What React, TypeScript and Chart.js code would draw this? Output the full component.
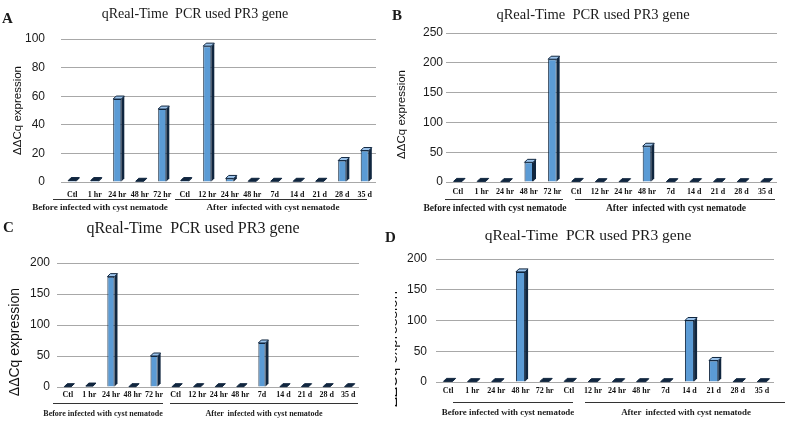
import React, { useEffect, useRef } from "react";
import { Chart, registerables } from "chart.js";

Chart.register(...registerables);

// ---------- data ----------
const categoriesABC = ["Ctl", "1 hr", "24 hr", "48 hr", "72 hr", "Ctl", "12 hr", "24 hr", "48 hr", "7d", "14 d", "21 d", "28 d", "35 d"];
const categoriesD = ["Ctl", "1 hr", "24 hr", "48 hr", "72 hr", "Ctl", "12 hr", "24 hr", "48 hr", "7d", "14 d", "21 d", "28 d", "35 d"];

const valuesA = [1, 1, 58, 0.5, 51, 1, 95, 2.5, 0.5, 0.5, 0.5, 0.5, 15, 22];
const valuesB = [1, 1, 0.5, 33, 206, 1, 0.5, 0.5, 60, 0.5, 0.5, 0.5, 0.5, 0.5];
const valuesC = [0.5, 1.5, 178, 0.5, 50, 0.5, 0.5, 0.5, 0.5, 71, 0.5, 0.5, 0.5, 0.5];
const valuesD = [1, 0.5, 0.5, 179, 1, 1, 0.5, 0.5, 0.5, 0.5, 100, 35, 0.5, 0.5];

const yMaxA = 100;
const yStepA = 20;
const yMaxB = 250;
const yStepB = 50;
const yMaxC = 200;
const yStepC = 50;
const yMaxD = 200;
const yStepD = 50;

const chartTitle = "qReal-Time  PCR used PR3 gene";
const yAxisTitle = "ΔΔCq expression";
const groupBefore = "Before infected with cyst nematode";
const groupAfter = "After  infected with cyst nematode";

// ---------- styling ----------
const SERIF = "'Liberation Serif', 'Times New Roman', serif";
const SANS = "'Liberation Sans', Arial, sans-serif";
const BAR_FRONT = "#5b9bd5";
const BAR_LIGHT = "#8fbbe8";
const BAR_DARK = "#10263f";
const BAR_TOP = "#9cc4ec";
const GRID = "#a8a8a8";

const bar3d = {
  id: "bar3d",
  afterDatasetsDraw(chart: any) {
    const ctx = chart.ctx;
    const meta = chart.getDatasetMeta(0);
    const d = 3;
    meta.data.forEach((el: any) => {
      const p = el.getProps(["x", "y", "base", "width"], true);
      const l = p.x - p.width / 2;
      const r = p.x + p.width / 2;
      const y = p.y;
      const base = p.base;
      ctx.save();
      // side face
      ctx.beginPath();
      ctx.moveTo(r, y);
      ctx.lineTo(r + d, y - d);
      ctx.lineTo(r + d, base - d);
      ctx.lineTo(r, base);
      ctx.closePath();
      ctx.fillStyle = BAR_DARK;
      ctx.fill();
      // top face
      ctx.beginPath();
      ctx.moveTo(l, y);
      ctx.lineTo(l + d, y - d);
      ctx.lineTo(r + d, y - d);
      ctx.lineTo(r, y);
      ctx.closePath();
      ctx.fillStyle = base - y < 3 ? BAR_DARK : BAR_TOP;
      ctx.fill();
      ctx.strokeStyle = BAR_DARK;
      ctx.lineWidth = 1;
      ctx.stroke();
      ctx.restore();
    });
  },
};

type PanelCfg = {
  left: number;
  top: number;
  width: number;
  height: number;
  padding: { left: number; right: number; top: number; bottom: number };
  yAxisWidth: number;
  yTickPad: number;
  xTickPad: number;
  barPct: number;
  xFont: number;
};

function barFill(c: any) {
  const chart = c.chart;
  const el = c.element;
  if (!el || !chart.chartArea) return BAR_FRONT;
  const p = el.getProps(["x", "width"], true);
  if (!isFinite(p.x) || !isFinite(p.width)) return BAR_FRONT;
  const g = chart.ctx.createLinearGradient(p.x - p.width / 2, 0, p.x + p.width / 2, 0);
  g.addColorStop(0, BAR_LIGHT);
  g.addColorStop(1, BAR_FRONT);
  return g;
}

function BarPanel(props: { labels: string[]; values: number[]; yMax: number; yStep: number; cfg: PanelCfg }) {
  const ref = useRef<HTMLCanvasElement | null>(null);
  const { labels, values, yMax, yStep, cfg } = props;
  useEffect(() => {
    if (!ref.current) return;
    const chart = new Chart(ref.current, {
      type: "bar",
      data: {
        labels,
        datasets: [
          {
            data: values,
            backgroundColor: barFill,
            borderColor: BAR_DARK,
            borderWidth: 1,
            barPercentage: cfg.barPct,
            categoryPercentage: 1,
          },
        ],
      },
      options: {
        responsive: false,
        animation: false,
        devicePixelRatio: 1,
        layout: { padding: cfg.padding },
        plugins: {
          legend: { display: false },
          tooltip: { enabled: false },
          title: { display: false },
        },
        scales: {
          x: {
            grid: { display: false, drawTicks: false },
            border: { display: false },
            ticks: {
              autoSkip: false,
              maxRotation: 0,
              minRotation: 0,
              padding: cfg.xTickPad,
              color: "#111",
              font: { family: SERIF, size: cfg.xFont, weight: "bold" },
            },
            afterFit: (s: any) => {
              s.height = 16;
              s.paddingLeft = 0;
              s.paddingRight = 0;
            },
          },
          y: {
            min: 0,
            max: yMax,
            ticks: {
              stepSize: yStep,
              padding: cfg.yTickPad,
              color: "#1a1a1a",
              font: { family: SANS, size: 12 },
            },
            grid: { color: GRID, lineWidth: 1, drawTicks: false },
            border: { display: false },
            afterFit: (s: any) => {
              s.width = cfg.yAxisWidth;
              s.paddingTop = 0;
              s.paddingBottom = 0;
            },
          },
        },
      },
      plugins: [bar3d],
    } as any);
    return () => chart.destroy();
  }, []);
  return (
    <canvas
      ref={ref}
      width={cfg.width}
      height={cfg.height}
      style={{ position: "absolute", left: cfg.left, top: cfg.top, width: cfg.width, height: cfg.height }}
    />
  );
}

function Txt(props: { x: number; y: number; size: number; text: string; bold?: boolean; family?: string; center?: boolean }) {
  const { x, y, size, text, bold, family, center } = props;
  return (
    <div
      style={{
        position: "absolute",
        left: x,
        top: y,
        transform: center ? "translate(-50%, -50%)" : "translate(0, -50%)",
        fontFamily: family || SERIF,
        fontSize: size,
        fontWeight: bold ? "bold" : "normal",
        lineHeight: 1,
        whiteSpace: "pre",
        color: "#1a1a1a",
      }}
    >
      {text}
    </div>
  );
}

// Vertical text (reads bottom to top), centred on (x, y)
function VTxt(props: { x: number; y: number; size: number; text: string }) {
  const h = 200;
  const w = Math.round(props.size * 1.2);
  return (
    <div
      style={{
        position: "absolute",
        left: Math.round(props.x - w / 2),
        top: Math.round(props.y - h / 2),
        width: w,
        height: h,
        display: "flex",
        alignItems: "center",
        justifyContent: "center",
      }}
    >
      <div
        style={{
          writingMode: "vertical-rl",
          transform: "rotate(180deg)",
          fontFamily: SANS,
          fontSize: props.size,
          lineHeight: 1.2,
          whiteSpace: "nowrap",
          color: "#111",
        }}
      >
        {props.text}
      </div>
    </div>
  );
}

function HLine(props: { x1: number; x2: number; y: number }) {
  return (
    <div
      style={{
        position: "absolute",
        left: props.x1,
        top: props.y,
        width: props.x2 - props.x1,
        height: 0,
        borderTop: "1px solid #333",
      }}
    />
  );
}

const cfgA: PanelCfg = {
  left: 0, top: 0, width: 392, height: 205,
  padding: { left: 11, right: 16, top: 39, bottom: 7 },
  yAxisWidth: 50, yTickPad: 16, xTickPad: 8, barPct: 0.36, xFont: 8,
};
const cfgB: PanelCfg = {
  left: 393, top: 0, width: 394, height: 205,
  padding: { left: 8, right: 10, top: 33, bottom: 7 },
  yAxisWidth: 45, yTickPad: 3, xTickPad: 5, barPct: 0.36, xFont: 8,
};
const cfgC: PanelCfg = {
  left: 0, top: 215, width: 392, height: 190,
  padding: { left: 7, right: 33, top: 48, bottom: 2 },
  yAxisWidth: 50, yTickPad: 7, xTickPad: 3, barPct: 0.33, xFont: 8,
};
const cfgD: PanelCfg = {
  left: 393, top: 215, width: 394, height: 190,
  padding: { left: 3, right: 13, top: 44, bottom: 7 },
  yAxisWidth: 40, yTickPad: 9, xTickPad: 4, barPct: 0.38, xFont: 8,
};

export default function App() {
  return (
    <div style={{ position: "absolute", left: 0, top: 0, width: 787, height: 423, background: "#fff", overflow: "hidden" }}>
      {/* Panel A */}
      <BarPanel labels={categoriesABC} values={valuesA} yMax={yMaxA} yStep={yStepA} cfg={cfgA} />
      <Txt x={2} y={18} size={15} bold text="A" />
      <Txt x={195} y={14} size={14} center text={chartTitle} />
      <VTxt x={18} y={110} size={11.5} text={yAxisTitle} />
      <HLine x1={53} x2={167} y={199} />
      <HLine x1={175} x2={367} y={199} />
      <Txt x={100} y={208} size={9.1} bold center text={groupBefore} />
      <Txt x={273} y={208} size={9.1} bold center text={groupAfter} />

      {/* Panel B */}
      <BarPanel labels={categoriesABC} values={valuesB} yMax={yMaxB} yStep={yStepB} cfg={cfgB} />
      <Txt x={392} y={15} size={15} bold text="B" />
      <Txt x={593} y={14} size={14.5} center text={chartTitle} />
      <VTxt x={402} y={114} size={11.5} text={yAxisTitle} />
      <HLine x1={445} x2={563} y={199} />
      <HLine x1={575} x2={775} y={199} />
      <Txt x={495} y={208} size={9.6} bold center text={groupBefore} />
      <Txt x={676} y={208} size={9.6} bold center text={groupAfter} />

      {/* Panel C */}
      <BarPanel labels={categoriesABC} values={valuesC} yMax={yMaxC} yStep={yStepC} cfg={cfgC} />
      <Txt x={3} y={227} size={15} bold text="C" />
      <Txt x={193} y={228} size={16} center text={chartTitle} />
      <VTxt x={14} y={342} size={14} text={yAxisTitle} />
      <HLine x1={53} x2={163} y={403} />
      <HLine x1={170} x2={358} y={403} />
      <Txt x={103} y={414} size={8} bold center text={groupBefore} />
      <Txt x={264} y={414} size={8} bold center text={groupAfter} />

      {/* Panel D */}
      <BarPanel labels={categoriesD} values={valuesD} yMax={yMaxD} yStep={yStepD} cfg={cfgD} />
      <div style={{ position: "absolute", left: 395, top: 250, width: 10, height: 170, overflow: "hidden" }}>
        <VTxt x={-3} y={99} size={15} text={yAxisTitle} />
      </div>
      <Txt x={385} y={237} size={15} bold text="D" />
      <Txt x={588} y={235} size={15.5} center text={chartTitle} />
      <HLine x1={453} x2={573} y={402} />
      <HLine x1={585} x2={785} y={402} />
      <Txt x={508} y={412} size={8.9} bold center text={groupBefore} />
      <Txt x={686} y={412} size={8.9} bold center text={groupAfter} />
    </div>
  );
}
